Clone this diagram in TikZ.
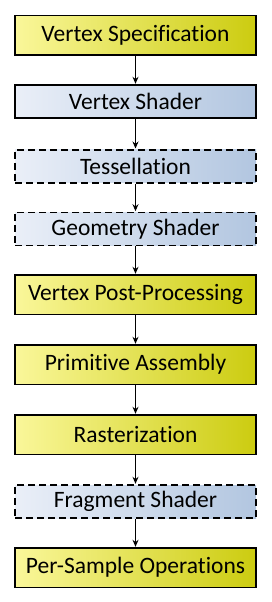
\documentclass[tikz,border=0pt]{standalone}
\usepackage{fontspec}
\setmainfont{Carlito}[Ligatures={NoCommon}]
\usetikzlibrary{arrows.meta}
\definecolor{yelL}{HTML}{FAF79A}
\definecolor{yelR}{HTML}{CCCC10}
\definecolor{bluL}{HTML}{EAEFF8}
\definecolor{bluR}{HTML}{B2C6E0}
\tikzset{
  stage/.style={draw=black, line width=1.2pt, minimum width=241pt, inner sep=0pt,
    font=\fontsize{23.5}{25}\selectfont, anchor=north},
  fixedstage/.style={stage, left color=yelL, right color=yelR, minimum height=39.5pt},
  progstage/.style={stage, left color=bluL, right color=bluR, minimum height=33pt},
  optstage/.style={progstage, dash pattern=on 7pt off 4pt, line width=1.5pt},
  flow/.style={-{Stealth[length=7pt,width=6pt]}, line width=1pt, shorten >=0.5pt}
}
\begin{document}
\begin{tikzpicture}[x=1pt,y=-1pt]
\useasboundingbox (0,0) rectangle (271,602);
\node[fixedstage] (vspec) at (135.5,15) {Vertex Specification};
\node[progstage]  (vsh)   at (135.5,84.3) {Vertex Shader};
\node[optstage]   (tess)  at (135.5,149) {Tessellation};
\node[optstage]   (geom)  at (135.5,211.7) {Geometry Shader};
\node[fixedstage] (vpp)   at (135.5,274.3) {Vertex Post-Processing};
\node[fixedstage] (pa)    at (135.5,344.3) {Primitive Assembly};
\node[fixedstage] (rast)  at (135.5,414.3) {Rasterization};
\node[optstage]   (frag)  at (135.5,484.3) {Fragment Shader};
\node[fixedstage] (pso)   at (135.5,547.3) {Per-Sample Operations};
\draw[flow] (vspec) -- (vsh);
\draw[flow] (vsh) -- (tess);
\draw[flow] (tess) -- (geom);
\draw[flow] (geom) -- (vpp);
\draw[flow] (vpp) -- (pa);
\draw[flow] (pa) -- (rast);
\draw[flow] (rast) -- (frag);
\draw[flow] (frag) -- (pso);
\end{tikzpicture}
\end{document}
